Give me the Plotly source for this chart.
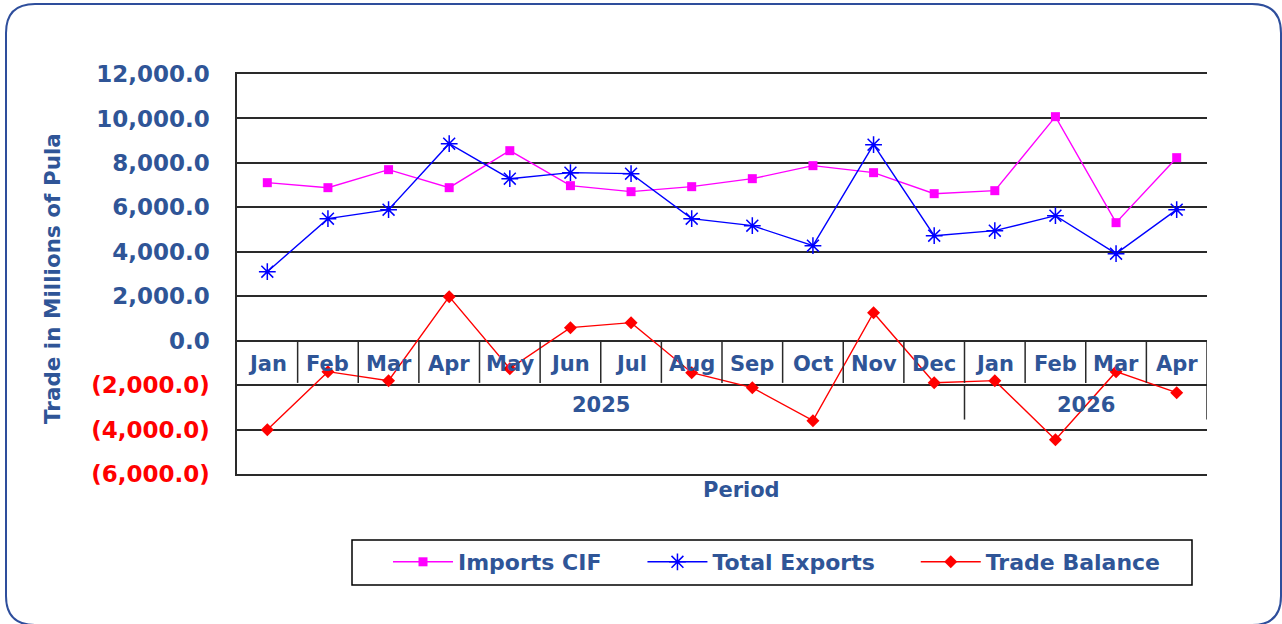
import plotly.graph_objects as go

months = ["Jan", "Feb", "Mar", "Apr", "May", "Jun", "Jul", "Aug", "Sep", "Oct", "Nov", "Dec",
          "Jan", "Feb", "Mar", "Apr"]
years = ["2025"] * 12 + ["2026"] * 4
imports_cif = [7110, 6885, 7695, 6885, 8550, 6975, 6705, 6930, 7290, 7875, 7560, 6615, 6750, 10080, 5310, 8235]
total_exports = [3105, 5490, 5895, 8865, 7290, 7560, 7515, 5490, 5175, 4275, 8820, 4725, 4950, 5625, 3915, 5895]
trade_balance = [-4005, -1395, -1800, 1980, -1260, 585, 810, -1440, -2115, -3600, 1260, -1890, -1800, -4455, -1395, -2340]
y_ticks = [-6000, -4000, -2000, 0, 2000, 4000, 6000, 8000, 10000, 12000]

periods = [f"{m} {y}" for m, y in zip(months, years)]

TXT = "#2F5597"
FONT = "DejaVu Sans"
GRID = "#2a2a2a"

def fmt(v):
    if v < 0:
        return f"<span style='color:#FF0000'>({abs(v):,.1f})</span>"
    return f"{v:,.1f}"

fig = go.Figure()
fig.add_trace(go.Scatter(x=periods, y=imports_cif, name="Imports CIF", mode="lines+markers",
                         line=dict(color="#FF00FF", width=1.4),
                         marker=dict(symbol="square", size=9, color="#FF00FF")))
fig.add_trace(go.Scatter(x=periods, y=total_exports, name="Total Exports", mode="lines+markers",
                         line=dict(color="#0000FF", width=1.4),
                         marker=dict(symbol="asterisk-open", size=14, color="#0000FF",
                                     line=dict(color="#0000FF", width=1.5))))
fig.add_trace(go.Scatter(x=periods, y=trade_balance, name="Trade Balance", mode="lines+markers",
                         line=dict(color="#FF0000", width=1.4),
                         marker=dict(symbol="diamond", size=10, color="#FF0000")))

n = len(periods)
shapes = []
for k in range(n - 1):
    shapes.append(dict(type="line", xref="x", yref="y", x0=k + 0.5, x1=k + 0.5, y0=0, y1=-1900,
                       line=dict(color=GRID, width=1.5)))
shapes.append(dict(type="line", xref="x", yref="y", x0=n - 0.5, x1=n - 0.5, y0=0, y1=-3550,
                   line=dict(color=GRID, width=1.5)))
split = years.index("2026")
shapes.append(dict(type="line", xref="x", yref="y", x0=split - 0.5, x1=split - 0.5, y0=-2000, y1=-3550,
                   line=dict(color=GRID, width=1.5)))

L, R, T, B = 237, 1207, 74, 474
def px(x):
    return (x - L) / (R - L)
def py(y):
    return (B - y) / (B - T)
x0, x1, y0, y1, r = 6, 1281, 4, 625, 29
path = (f"M {px(x0 + r)},{py(y0)} L {px(x1 - r)},{py(y0)} Q {px(x1)},{py(y0)} {px(x1)},{py(y0 + r)} "
        f"L {px(x1)},{py(y1 - r)} Q {px(x1)},{py(y1)} {px(x1 - r)},{py(y1)} "
        f"L {px(x0 + r)},{py(y1)} Q {px(x0)},{py(y1)} {px(x0)},{py(y1 - r)} "
        f"L {px(x0)},{py(y0 + r)} Q {px(x0)},{py(y0)} {px(x0 + r)},{py(y0)} Z")
shapes.append(dict(type="path", xref="paper", yref="paper", path=path,
                   line=dict(color="#2E4E9C", width=2), layer="below"))
# legend frame
shapes.append(dict(type="rect", xref="paper", yref="paper", x0=px(352), x1=px(1192), y0=py(585), y1=py(540),
                   line=dict(color="#000000", width=1.5), layer="below"))

annotations = []
for p, m in zip(periods, months):
    annotations.append(dict(x=p, y=-1030, xref="x", yref="y", text=m, showarrow=False,
                            xanchor="center", yanchor="middle",
                            font=dict(family=FONT, size=21, color=TXT, weight="bold")))
for yr in sorted(set(years)):
    idx = [i for i, y in enumerate(years) if y == yr]
    annotations.append(dict(x=(idx[0] + idx[-1]) / 2, y=-2900, xref="x", yref="y", text=yr,
                            showarrow=False, xanchor="center", yanchor="middle",
                            font=dict(family=FONT, size=21, color=TXT, weight="bold")))
annotations.append(dict(x=px(741), y=py(490), xref="paper", yref="paper", text="Period", showarrow=False,
                        xanchor="center", yanchor="middle",
                        font=dict(family=FONT, size=21, color=TXT, weight="bold")))
annotations.append(dict(x=px(52), y=py(279), xref="paper", yref="paper", text="Trade in Millions of Pula",
                        textangle=-90, showarrow=False, xanchor="center", yanchor="middle",
                        font=dict(family=FONT, size=21.5, color=TXT, weight="bold")))

fig.update_layout(
    width=1282, height=624,
    margin=dict(l=L, r=1282 - R, t=T, b=624 - B),
    paper_bgcolor="white", plot_bgcolor="white",
    shapes=shapes, annotations=annotations,
    showlegend=True,
    legend=dict(orientation="h", x=px(352), y=py(541), xanchor="left", yanchor="top",
                borderwidth=0, bgcolor="rgba(0,0,0,0)",
                font=dict(family=FONT, size=22, color=TXT, weight="bold"),
                itemwidth=60, indentation=36),
    xaxis=dict(range=[-0.5, n - 0.5], showticklabels=False, showgrid=False,
               showline=True, mirror=True, linecolor=GRID, linewidth=1.5,
               zeroline=False, ticks=""),
    yaxis=dict(range=[-6000, 12000], tickvals=y_ticks, ticktext=[fmt(v) for v in y_ticks],
               showgrid=True, gridcolor=GRID, gridwidth=1.5, zeroline=False,
               showline=True, linecolor=GRID, linewidth=1.5,
               ticklabelstandoff=21,
               tickfont=dict(family=FONT, size=23, color=TXT, weight="bold")),
)

fig.write_html("out.html", config={"displayModeBar": False},
               post_script="document.body.style.margin='0';document.body.style.overflow='hidden';")
